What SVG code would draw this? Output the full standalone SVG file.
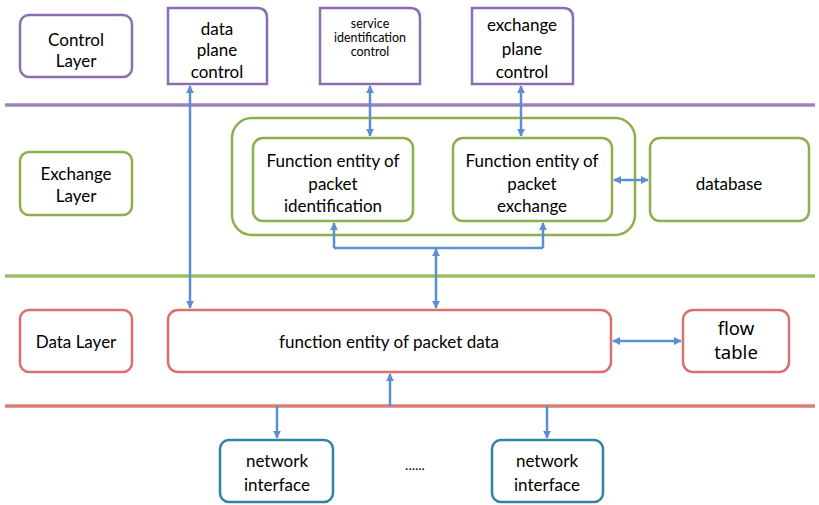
<svg xmlns="http://www.w3.org/2000/svg" width="819" height="505" viewBox="0 0 819 505">
  <defs>
    <marker id="ah" viewBox="0 0 10 10" refX="9" refY="5" markerWidth="8" markerHeight="8" markerUnits="userSpaceOnUse" orient="auto-start-reverse">
      <path d="M0,0 L10,5 L0,10 z" fill="#5b8fcf"/>
    </marker>
    <style>
      .bg{fill:#ffffff}
      .pur{fill:#fff;stroke:#8a6fae;stroke-width:2.5}
      .grn{fill:#fff;stroke:#8cb04a;stroke-width:2.5}
      .red{fill:#fff;stroke:#d9706c;stroke-width:2.5}
      .teal{fill:#fff;stroke:#31849b;stroke-width:2.5}
      .sep{stroke-width:3.5;fill:none}
      .conn{stroke:#5b8fcf;stroke-width:2.5;fill:none}
      text{font-family:Lato,"Liberation Sans",sans-serif;font-size:17px;fill:#000;text-anchor:middle}
      .sm{font-size:12.5px}
      .big{font-family:"Noto Sans","Open Sans",sans-serif;font-size:18.5px}
    </style>
  </defs>
  <rect class="bg" x="0" y="0" width="819" height="505"/>

  <!-- layer separators -->
  <g id="separators">
    <line class="sep" x1="5" y1="105" x2="815" y2="105" stroke="#9a84bb"/>
    <line class="sep" x1="5" y1="276" x2="815" y2="276" stroke="#9cbd63"/>
    <line class="sep" x1="5" y1="406" x2="815" y2="406" stroke="#d97f7b"/>
  </g>

  <!-- control layer -->
  <g id="control-layer">
    <rect class="pur" x="20" y="15" width="112" height="62" rx="9"/>
    <text x="76" y="46">Control</text>
    <text x="76" y="67">Layer</text>
  </g>
  <g id="data-plane-control">
    <path class="pur" d="M168,8 H257 Q267,8 267,18 V84 H168 Z"/>
    <text x="217" y="35">data</text>
    <text x="217" y="56">plane</text>
    <text x="217" y="78">control</text>
  </g>
  <g id="service-identification-control">
    <path class="pur" d="M320,8 H410 Q420,8 420,18 V84 H320 Z"/>
    <text class="sm" x="370" y="28">service</text>
    <text class="sm" x="370" y="42">identification</text>
    <text class="sm" x="370" y="56">control</text>
  </g>
  <g id="exchange-plane-control">
    <path class="pur" d="M472,8 H563 Q573,8 573,18 V84 H472 Z"/>
    <text x="522" y="31">exchange</text>
    <text x="522" y="55">plane</text>
    <text x="522" y="78">control</text>
  </g>

  <!-- exchange layer -->
  <g id="exchange-layer">
    <rect class="grn" x="20" y="152" width="112" height="63" rx="9"/>
    <text x="76" y="180">Exchange</text>
    <text x="76" y="202">Layer</text>
  </g>
  <g id="exchange-container">
    <rect class="grn" x="232" y="118" width="403" height="117" rx="20"/>
  </g>
  <g id="packet-identification">
    <rect class="grn" x="253" y="138" width="160" height="83" rx="10"/>
    <text x="333" y="167">Function entity of</text>
    <text x="333" y="190">packet</text>
    <text x="333" y="212">identification</text>
  </g>
  <g id="packet-exchange">
    <rect class="grn" x="453" y="138" width="159" height="83" rx="10"/>
    <text x="532" y="167">Function entity of</text>
    <text x="532" y="190">packet</text>
    <text x="532" y="212">exchange</text>
  </g>
  <g id="database">
    <rect class="grn" x="650" y="138" width="159" height="83" rx="10"/>
    <text x="729" y="190">database</text>
  </g>

  <!-- data layer -->
  <g id="data-layer">
    <rect class="red" x="20" y="310" width="112" height="62" rx="9"/>
    <text x="76" y="348">Data Layer</text>
  </g>
  <g id="packet-data">
    <rect class="red" x="168" y="310" width="443" height="62" rx="10"/>
    <text x="389" y="348">function entity of packet data</text>
  </g>
  <g id="flow-table">
    <rect class="red" x="683" y="310" width="106" height="62" rx="10"/>
    <text class="big" x="736" y="335">flow</text>
    <text class="big" x="736" y="359">table</text>
  </g>

  <!-- network interfaces -->
  <g id="network-interface-1">
    <rect class="teal" x="220" y="440" width="113" height="62" rx="9"/>
    <text x="277" y="467">network</text>
    <text x="277" y="491">interface</text>
  </g>
  <g id="ellipsis">
    <text x="415" y="470" style="font-size:14px">......</text>
  </g>
  <g id="network-interface-2">
    <rect class="teal" x="492" y="440" width="111" height="62" rx="9"/>
    <text x="547" y="467">network</text>
    <text x="547" y="491">interface</text>
  </g>

  <!-- connectors -->
  <g id="connectors">
    <line class="conn" x1="190" y1="86" x2="190" y2="308" marker-start="url(#ah)" marker-end="url(#ah)"/>
    <line class="conn" x1="370" y1="86" x2="370" y2="136" marker-start="url(#ah)" marker-end="url(#ah)"/>
    <line class="conn" x1="521" y1="86" x2="521" y2="136" marker-start="url(#ah)" marker-end="url(#ah)"/>
    <line class="conn" x1="614" y1="180" x2="648" y2="180" marker-start="url(#ah)" marker-end="url(#ah)"/>
    <polyline class="conn" points="334,248 543,248"/>
    <line class="conn" x1="334" y1="248" x2="334" y2="223" marker-end="url(#ah)"/>
    <line class="conn" x1="543" y1="248" x2="543" y2="223" marker-end="url(#ah)"/>
    <line class="conn" x1="436" y1="249" x2="436" y2="308" marker-start="url(#ah)" marker-end="url(#ah)"/>
    <line class="conn" x1="613" y1="341" x2="681" y2="341" marker-start="url(#ah)" marker-end="url(#ah)"/>
    <line class="conn" x1="390" y1="406" x2="390" y2="374" marker-end="url(#ah)"/>
    <line class="conn" x1="277" y1="406" x2="277" y2="438" marker-end="url(#ah)"/>
    <line class="conn" x1="547" y1="406" x2="547" y2="438" marker-end="url(#ah)"/>
  </g>
</svg>
